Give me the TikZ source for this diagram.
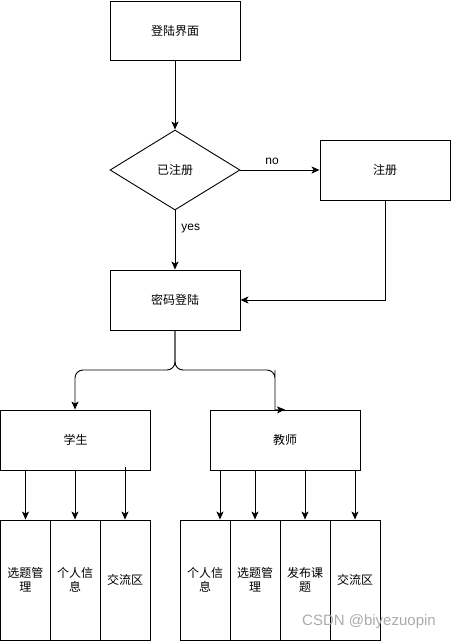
\documentclass[tikz,border=0pt]{standalone}
\usepackage{fontspec}
\setmainfont{Liberation Sans}
\newfontfamily\cjk{Noto Sans CJK SC}
\usetikzlibrary{shapes.geometric,arrows.meta}
\begin{document}
\begin{tikzpicture}[x=1pt,y=-1pt,
  box/.style={draw,line width=0.9pt,inner sep=0pt,minimum width=130pt,minimum height=60pt,
    font=\cjk\fontsize{12}{14}\selectfont,align=center},
  sbox/.style={box,minimum width=50pt,minimum height=120pt},
  wbox/.style={box,minimum width=150pt},
  dia/.style={draw,line width=0.9pt,diamond,aspect=1.625,inner sep=0pt,minimum width=130pt,minimum height=80pt,
    font=\cjk\fontsize{12}{14}\selectfont},
  arr/.style={line width=0.9pt,-{Stealth[length=8pt,width=7pt,inset=2pt]}},
  lbl/.style={font=\fontsize{12}{14}\selectfont,inner sep=0pt}]
\useasboundingbox (0,0) rectangle (451,641);
\node[box,minimum height=59pt] (login) at (175,30.5) {登陆界面};
\node[dia] (reg) at (175,170) {已注册};
\node[box] (zhuce) at (385,170) {注册};
\node[box] (mima) at (175,300) {密码登陆};
\node[wbox] (xs) at (75.5,440) {学生};
\node[wbox] (js) at (285,440) {教师};
\node[sbox] (a1) at (25.5,580) {选题管\\理};
\node[sbox] (a2) at (75,580) {个人信\\息};
\node[sbox] (a3) at (125,580) {交流区};
\node[sbox] (b1) at (205,580) {个人信\\息};
\node[sbox] (b2) at (255,580) {选题管\\理};
\node[sbox] (b3) at (305,580) {发布课\\题};
\node[sbox] (b4) at (355,580) {交流区};
\draw[arr] (login) -- (reg);
\draw[arr] (reg) -- node[lbl,pos=0.4,above=5pt] (no) {no} (zhuce);
\draw[arr] (reg) -- node[lbl,pos=0.3,right=6pt] (yes) {yes} (mima);
\draw[arr] (zhuce.south) |- (mima.east);
\coordinate (j) at (175,370);
\coordinate (jl) at (75,370);
\coordinate (jr) at (275,370);
\coordinate (jr2) at (275,378);
\coordinate (jr3) at (275,410);
\draw[arr,rounded corners=8pt] (mima.south) -- (j) -- (jl) -- (xs.north -| jl);
\draw[arr,rounded corners=8pt] (mima.south) -- (j) -- (jr) -- (jr2) [sharp corners] -- (jr3) -- (js.north);
\draw[arr] (a1.north |- xs.south) -- (a1.north);
\draw[arr] (a2.north |- xs.south) -- (a2.north);
\draw[arr] ([yshift=3pt]a3.north |- xs.south) -- (a3.north);
\draw[arr] ([xshift=15pt]b1.north |- js.south) -- ([xshift=15pt]b1.north);
\draw[arr] (b2.north |- js.south) -- (b2.north);
\draw[arr] (b3.north |- js.south) -- (b3.north);
\draw[arr] (b4.north |- js.south) -- (b4.north);
\node[font=\fontsize{15}{17}\selectfont,text=black!33,inner sep=0pt] (wm) at (369,622) {CSDN @biyezuopin};
\end{tikzpicture}
\end{document}
